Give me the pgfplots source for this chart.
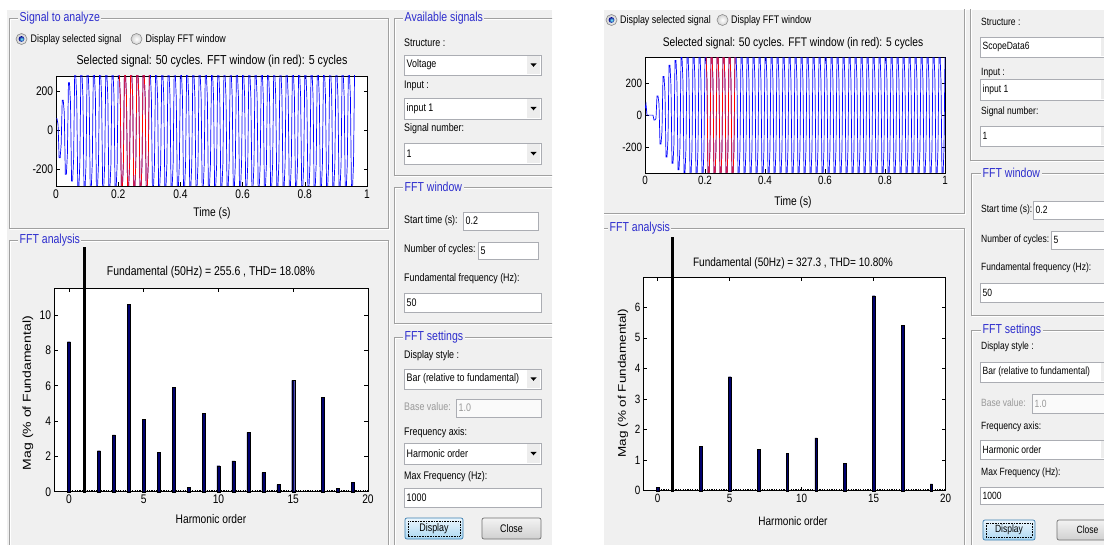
\documentclass[border=0pt]{standalone}
\usepackage{fontspec}
\setmainfont{Liberation Sans}
\usepackage{graphicx}
\usepackage{pgfplots}
\pgfplotsset{compat=1.18}
\usepackage{pgfplotstable}
\definecolor{panel}{RGB}{240,240,240}
\definecolor{fgray}{RGB}{160,160,160}
\definecolor{ftitle}{RGB}{45,45,205}
\definecolor{boxb}{RGB}{171,173,179}
\definecolor{navy}{RGB}{0,0,110}
\definecolor{sigblue}{RGB}{0,0,255}
\definecolor{sigred}{RGB}{255,0,0}
\definecolor{dtop}{RGB}{236,246,253}
\definecolor{dbot}{RGB}{172,216,242}
\definecolor{dbrd}{RGB}{60,127,177}
\definecolor{ctop}{RGB}{243,243,243}
\definecolor{cbot}{RGB}{208,208,208}
\definecolor{cbrd}{RGB}{112,112,112}

\newcommand{\sq}[1]{\scalebox{0.81}[1]{#1}}
\newcommand{\gf}{\fontsize{11}{13}\selectfont}
\newcommand{\tf}{\fontsize{13}{15}\selectfont}

\newcommand{\frm}[6]{%
  \draw[white, line width=0.8pt] (#1+1,#2+1) rectangle (#3+1,#4+1);
  \draw[fgray, line width=0.8pt] (#1,#2) rectangle (#3,#4);
  \node[anchor=west, fill=panel, inner xsep=1.5pt, inner ysep=0pt, text=ftitle, font=\tf] at (#5,#2) {\sq{#6}};
}
\newcommand{\frmn}[4]{%
  \draw[white, line width=0.8pt] (#1+1,#2+1) rectangle (#3+1,#4+1);
  \draw[fgray, line width=0.8pt] (#1,#2) rectangle (#3,#4);
}
\newcommand{\lab}[3]{\node[anchor=west, inner sep=0pt, font=\gf] at (#1,#2) {\sq{#3}};}
\newcommand{\tbox}[5]{%
  \draw[boxb, fill=white, line width=0.6pt] (#1,#2) rectangle (#3,#4);
  \node[anchor=west, inner sep=0pt, font=\gf] at (#1+2.5,{(#2+#4)/2}) {\sq{#5}};
}
\newcommand{\ddown}[5]{%
  \tbox{#1}{#2}{#3}{#4}{#5}
  \fill[black!7] (#3-14,#2+1) rectangle (#3-1,#4-1);
  \fill[black] (#3-10.5,{(#2+#4)/2-1.5}) -- (#3-4.5,{(#2+#4)/2-1.5}) -- (#3-7.5,{(#2+#4)/2+1.8}) -- cycle;
}
\newcommand{\gbox}[7]{% label x, label y, box x1 y1 x2 y2, value
  \node[anchor=west, inner sep=0pt, font=\gf, text=black!40] at (#1,#2) {\sq{Base value:}};
  \draw[boxb, fill=black!2, line width=0.6pt] (#3,#4) rectangle (#5,#6);
  \node[anchor=west, inner sep=0pt, font=\gf, text=black!40] at (#3+2.5,{(#4+#6)/2}) {\sq{#7}};
}
\newcommand{\radio}[3]{%
  \shade[inner color=white, outer color=black!18] (#1,#2) circle (5.5pt);
  \draw[black!45, line width=0.6pt] (#1,#2) circle (5.5pt);
  \ifnum#3=1 \shade[inner color=cyan!50!white, outer color=blue!55!black] (#1,#2) circle (2.9pt);\fi
}
\newcommand{\dbtn}[4]{%
  \shade[top color=dtop, bottom color=dbot, rounded corners=2pt] (#1,#2) rectangle (#3,#4);
  \draw[dbrd, rounded corners=2pt, line width=0.7pt] (#1,#2) rectangle (#3,#4);
  \draw[black, line width=0.4pt, dash pattern=on 0.8pt off 0.8pt] (#1+3,#2+3) rectangle (#3-3,#4-3);
  \node[font=\gf, inner sep=0pt] at ({(#1+#3)/2},{(#2+#4)/2}) {\sq{Display}};
}
\newcommand{\cbtn}[4]{%
  \shade[top color=ctop, bottom color=cbot, rounded corners=2pt] (#1,#2) rectangle (#3,#4);
  \draw[cbrd, rounded corners=2pt, line width=0.7pt] (#1,#2) rectangle (#3,#4);
  \node[font=\gf, inner sep=0pt] at ({(#1+#3)/2},{(#2+#4)/2}) {\sq{Close}};
}
\newcommand{\atext}[4]{\node[inner sep=0pt, font=\fontsize{#3}{#3}\selectfont] at (#1,#2) {\scalebox{0.82}[1]{#4}};}

\pgfplotsset{
  mat/.style={scale only axis, anchor=south west,
    axis background/.style={fill=white},
    tick align=inside, major tick length=3.5pt,
    tick style={black, line width=0.6pt},
    axis line style={black, line width=0.7pt},
    /pgf/number format/assume math mode=true,
    ticklabel style={xscale=0.82, text=black},
  },
}

% sampled stepped signal, 6 values per cycle (50 Hz, 1 s), last value closes at t=1
\pgfplotstableread[header=false,row sep=\\]{
60\\60\\30\\-140\\-140\\-70\\
155\\155\\90\\-225\\-225\\-120\\
245\\245\\140\\-260\\-260\\-150\\
290\\290\\165\\-300\\-300\\-170\\
300\\300\\170\\-300\\-300\\-170\\ 300\\300\\170\\-300\\-300\\-170\\
300\\300\\170\\-300\\-300\\-170\\ 300\\300\\170\\-300\\-300\\-170\\
300\\300\\170\\-300\\-300\\-170\\ 300\\300\\170\\-300\\-300\\-170\\
300\\300\\170\\-300\\-300\\-170\\ 300\\300\\170\\-300\\-300\\-170\\
300\\300\\170\\-300\\-300\\-170\\ 300\\300\\170\\-300\\-300\\-170\\
300\\300\\170\\-300\\-300\\-170\\ 300\\300\\170\\-300\\-300\\-170\\
300\\300\\170\\-300\\-300\\-170\\ 300\\300\\170\\-300\\-300\\-170\\
300\\300\\170\\-300\\-300\\-170\\ 300\\300\\170\\-300\\-300\\-170\\
300\\300\\170\\-300\\-300\\-170\\ 300\\300\\170\\-300\\-300\\-170\\
300\\300\\170\\-300\\-300\\-170\\ 300\\300\\170\\-300\\-300\\-170\\
300\\300\\170\\-300\\-300\\-170\\ 300\\300\\170\\-300\\-300\\-170\\
300\\300\\170\\-300\\-300\\-170\\ 300\\300\\170\\-300\\-300\\-170\\
300\\300\\170\\-300\\-300\\-170\\ 300\\300\\170\\-300\\-300\\-170\\
300\\300\\170\\-300\\-300\\-170\\ 300\\300\\170\\-300\\-300\\-170\\
300\\300\\170\\-300\\-300\\-170\\ 300\\300\\170\\-300\\-300\\-170\\
300\\300\\170\\-300\\-300\\-170\\ 300\\300\\170\\-300\\-300\\-170\\
300\\300\\170\\-300\\-300\\-170\\ 300\\300\\170\\-300\\-300\\-170\\
300\\300\\170\\-300\\-300\\-170\\ 300\\300\\170\\-300\\-300\\-170\\
300\\300\\170\\-300\\-300\\-170\\ 300\\300\\170\\-300\\-300\\-170\\
300\\300\\170\\-300\\-300\\-170\\ 300\\300\\170\\-300\\-300\\-170\\
300\\300\\170\\-300\\-300\\-170\\ 300\\300\\170\\-300\\-300\\-170\\
300\\300\\170\\-300\\-300\\-170\\ 300\\300\\170\\-300\\-300\\-170\\
300\\
}\sigL

\pgfplotstableread[header=false,row sep=\\]{
40\\70\\0\\0\\0\\0\\
0\\0\\0\\-30\\-30\\-20\\
120\\120\\70\\-180\\-180\\-100\\
240\\240\\140\\-260\\-260\\-150\\
310\\310\\180\\-300\\-300\\-175\\
340\\340\\195\\-340\\-340\\-195\\
360\\360\\205\\-360\\-360\\-205\\
380\\380\\210\\-380\\-380\\-210\\
380\\380\\210\\-380\\-380\\-210\\ 380\\380\\210\\-380\\-380\\-210\\
380\\380\\210\\-380\\-380\\-210\\ 380\\380\\210\\-380\\-380\\-210\\
380\\380\\210\\-380\\-380\\-210\\ 380\\380\\210\\-380\\-380\\-210\\
380\\380\\210\\-380\\-380\\-210\\ 380\\380\\210\\-380\\-380\\-210\\
380\\380\\210\\-380\\-380\\-210\\ 380\\380\\210\\-380\\-380\\-210\\
380\\380\\210\\-380\\-380\\-210\\ 380\\380\\210\\-380\\-380\\-210\\
380\\380\\210\\-380\\-380\\-210\\ 380\\380\\210\\-380\\-380\\-210\\
380\\380\\210\\-380\\-380\\-210\\ 380\\380\\210\\-380\\-380\\-210\\
380\\380\\210\\-380\\-380\\-210\\ 380\\380\\210\\-380\\-380\\-210\\
380\\380\\210\\-380\\-380\\-210\\ 380\\380\\210\\-380\\-380\\-210\\
380\\380\\210\\-380\\-380\\-210\\ 380\\380\\210\\-380\\-380\\-210\\
380\\380\\210\\-380\\-380\\-210\\ 380\\380\\210\\-380\\-380\\-210\\
380\\380\\210\\-380\\-380\\-210\\ 380\\380\\210\\-380\\-380\\-210\\
380\\380\\210\\-380\\-380\\-210\\ 380\\380\\210\\-380\\-380\\-210\\
380\\380\\210\\-380\\-380\\-210\\ 380\\380\\210\\-380\\-380\\-210\\
380\\380\\210\\-380\\-380\\-210\\ 380\\380\\210\\-380\\-380\\-210\\
380\\380\\210\\-380\\-380\\-210\\ 380\\380\\210\\-380\\-380\\-210\\
380\\380\\210\\-380\\-380\\-210\\ 380\\380\\210\\-380\\-380\\-210\\
380\\380\\210\\-380\\-380\\-210\\ 380\\380\\210\\-380\\-380\\-210\\
380\\380\\210\\-380\\-380\\-210\\ 380\\380\\210\\-380\\-380\\-210\\
380\\380\\210\\-380\\-380\\-210\\ 380\\380\\210\\-380\\-380\\-210\\
380\\
}\sigR

\begin{document}
\begin{tikzpicture}
\path[use as bounding box] (0,0) rectangle (1104pt,-545pt);
\clip (0,0) rectangle (1104pt,-545pt);
\begin{scope}[x=1pt,y=-1pt]
\fill[white] (0,0) rectangle (1104,545);
\fill[panel] (7,10) rectangle (552,545);
\fill[panel] (604,10) rectangle (1104,545);

% ---------- left window ----------
\begin{scope}
\clip (7,10) rectangle (552,545);
\frm{9}{18}{388}{228}{18}{Signal to analyze}
\frm{9}{240}{388}{560}{18}{FFT analysis}
\frm{394}{18}{580}{175}{403}{Available signals}
\frm{394}{187}{580}{323}{403}{FFT window}
\frm{394}{337}{580}{580}{403}{FFT settings}
\end{scope}
\radio{21.5}{39}{1}\lab{30.5}{39.5}{Display selected signal}
\radio{136.5}{39}{0}\lab{145.5}{39.5}{Display FFT window}

\lab{404}{43}{Structure :}
\ddown{404}{55}{541}{75}{Voltage}
\lab{404}{86}{Input :}
\ddown{404}{98}{541}{119}{input 1}
\lab{404}{129}{Signal number:}
\ddown{404}{143}{541}{164}{1}
\lab{404}{221}{Start time (s):}
\tbox{463}{212}{538}{230}{0.2}
\lab{404}{250}{Number of cycles:}
\tbox{478}{242}{538}{259}{5}
\lab{404}{279}{Fundamental frequency (Hz):}
\tbox{404}{293}{541}{312}{50}
\lab{404}{356}{Display style :}
\ddown{404}{369}{541}{389}{Bar (relative to fundamental)}
\gbox{404}{407}{456}{399}{541}{417}{1.0}
\lab{404}{433}{Frequency axis:}
\ddown{404}{443}{541}{464}{Harmonic order}
\lab{404}{477}{Max Frequency (Hz):}
\tbox{404}{488}{541}{507}{1000}
\dbtn{405}{518}{463}{539}
\cbtn{482}{518}{541}{539}

\atext{212}{61}{13}{Selected signal: 50 cycles. FFT window (in red): 5 cycles}
\atext{212}{213}{12.5}{Time (s)}
\atext{211}{272}{12.75}{Fundamental (50Hz) = 255.6 , THD= 18.08\%}
\atext{211}{519}{12.5}{Harmonic order}
\node[rotate=90, inner sep=0pt, font=\fontsize{14}{14}\selectfont] at (28,393) {\scalebox{1}[0.82]{Mag (\% of Fundamental)}};

% ---------- right window ----------
\begin{scope}
\clip (604,10) rectangle (1104,545);
\frmn{590}{0}{964}{213}
\frm{590}{228}{964}{580}{608}{FFT analysis}
\frmn{970}{0}{1130}{160}
\frm{971}{173}{1130}{315}{981}{FFT window}
\frm{971}{330}{1130}{580}{981}{FFT settings}
\radio{611.5}{20}{1}\lab{620}{20.5}{Display selected signal}
\radio{722.5}{20}{0}\lab{731}{20.5}{Display FFT window}

\renewcommand{\gf}{\fontsize{10.5}{12}\selectfont}
\lab{981}{22}{Structure :}
\ddown{980}{37}{1115}{57}{ScopeData6}
\lab{981}{73}{Input :}
\ddown{980}{79}{1115}{100}{input 1}
\lab{981}{112}{Signal number:}
\ddown{980}{126}{1115}{146}{1}
\lab{981}{210}{Start time (s):}
\tbox{1033}{201}{1115}{219}{0.2}
\lab{981}{240}{Number of cycles:}
\tbox{1051}{231}{1115}{249}{5}
\lab{981}{268}{Fundamental frequency (Hz):}
\tbox{980}{283}{1115}{302}{50}
\lab{981}{347}{Display style :}
\ddown{980}{362}{1115}{382}{Bar (relative to fundamental)}
\gbox{981}{403}{1032}{394}{1115}{413}{1.0}
\lab{981}{427}{Frequency axis:}
\ddown{980}{440}{1115}{459}{Harmonic order}
\lab{981}{473}{Max Frequency (Hz):}
\tbox{980}{487}{1115}{504}{1000}
\dbtn{983}{520}{1035}{540}
\cbtn{1057}{520}{1118}{540}
\end{scope}

\atext{793}{43}{12.5}{Selected signal: 50 cycles. FFT window (in red): 5 cycles}
\atext{793}{202}{12.5}{Time (s)}
\atext{793}{263}{12.25}{Fundamental (50Hz) = 327.3 , THD= 10.80\%}
\atext{793}{521}{12.25}{Harmonic order}
\node[rotate=90, inner sep=0pt, font=\fontsize{13.5}{13.5}\selectfont] at (623,383) {\scalebox{1}[0.82]{Mag (\% of Fundamental)}};
\end{scope}

% ---------- left signal ----------
\begin{axis}[mat, at={(56pt,-186pt)}, width=311pt, height=110pt,
  xmin=0, xmax=1, ymin=-285, ymax=280,
  xtick={0,0.2,0.4,0.6,0.8,1}, ytick={-200,0,200},
  ticklabel style={font=\fontsize{12.5}{13}\selectfont}]
\addplot[sigblue, line width=0.7pt, sharp plot, mark=none] table[x expr=\coordindex/300, y index=0] {\sigL};
\addplot[sigred, line width=0.7pt, sharp plot, mark=none, restrict x to domain=0.199:0.301] table[x expr=\coordindex/300, y index=0] {\sigL};
\end{axis}

% ---------- left FFT ----------
\begin{axis}[mat, at={(54pt,-491.7pt)}, width=314pt, height=203.7pt,
  xmin=-1, xmax=20, ymin=0, ymax=11.53, clip=false,
  xtick={0,5,10,15,20}, ytick={0,2,4,6,8,10},
  ticklabel style={font=\fontsize{12.5}{13}\selectfont}]
\addplot[black, line width=1.1pt, dash pattern=on 1.2pt off 1.2pt] coordinates {(-0.1,0.07) (20,0.07)};
\addplot[ybar, bar width=3pt, bar shift=0pt, fill=navy, draw=black, line width=0.4pt] coordinates {
(0,8.49) (2,2.32) (3,3.21) (4,10.62) (5,4.11) (6,2.21) (7,5.91) (8,0.25) (9,4.43) (10,1.47)
(11,1.75) (12,3.36) (13,1.08) (14,0.40) (15,6.30) (17,5.36) (18,0.19) (19,0.51)};
\addplot[ybar, bar width=2pt, bar shift=0pt, fill=black, draw=black, line width=0.3pt] coordinates {(1,13.83)};
\end{axis}

% ---------- right signal ----------
\begin{axis}[mat, at={(645pt,-173pt)}, width=300pt, height=115.7pt,
  xmin=0, xmax=1, ymin=-360, ymax=360,
  xtick={0,0.2,0.4,0.6,0.8,1}, ytick={-200,0,200},
  ticklabel style={font=\fontsize{12}{13}\selectfont}]
\addplot[sigblue, line width=0.7pt, sharp plot, mark=none] table[x expr=\coordindex/300, y index=0] {\sigR};
\addplot[sigred, line width=0.7pt, sharp plot, mark=none, restrict x to domain=0.199:0.301] table[x expr=\coordindex/300, y index=0] {\sigR};
\end{axis}

% ---------- right FFT ----------
\begin{axis}[mat, at={(643.3pt,-490.7pt)}, width=302.4pt, height=213pt,
  xmin=-1, xmax=20, ymin=0, ymax=6.97, clip=false,
  xtick={0,5,10,15,20}, ytick={0,1,2,3,4,5,6},
  ticklabel style={font=\fontsize{12}{13}\selectfont}]
\addplot[black, line width=1.1pt, dash pattern=on 1.2pt off 1.2pt] coordinates {(-0.1,0.04) (20,0.04)};
\addplot[ybar, bar width=2.6pt, bar shift=0pt, fill=navy, draw=black, line width=0.4pt] coordinates {
(0,0.11) (3,1.46) (5,3.73) (7,1.36) (9,1.23) (11,1.73) (13,0.89) (15,6.38) (17,5.41) (19,0.22)};
\addplot[ybar, bar width=2pt, bar shift=0pt, fill=black, draw=black, line width=0.3pt] coordinates {(1,8.31)};
\end{axis}
\end{tikzpicture}
\end{document}
